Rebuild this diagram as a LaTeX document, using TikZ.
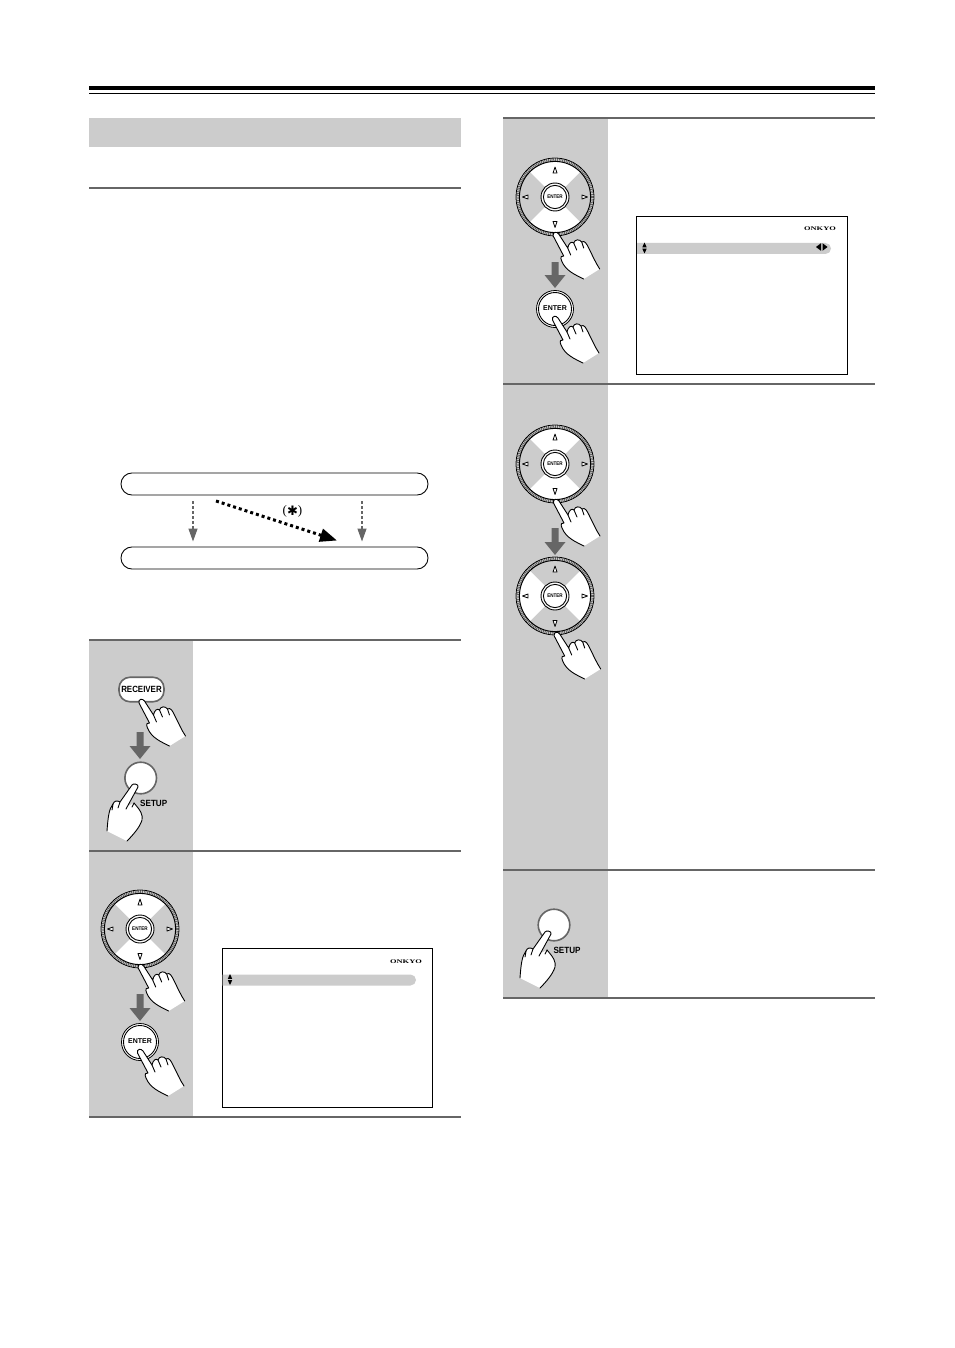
\documentclass[tikz,border=0pt]{standalone}
\usepackage{fontspec}
\setmainfont{Liberation Sans}
\newfontfamily\serifb{Liberation Serif}
\newfontfamily\djv{DejaVu Sans}
\usetikzlibrary{arrows.meta}
\definecolor{panelgray}{HTML}{CCCCCC}
\definecolor{rulegray}{HTML}{666666}
\tikzset{
  x=1pt,y=-1pt,
  rulel/.style={rulegray,line width=2pt},
  handline/.style={black,line width=0.9pt,line join=round,line cap=round},
  pill/.style={draw=black,line width=0.9pt,rounded corners=10.9pt,minimum width=307pt,minimum height=22pt,inner sep=0pt,fill=white},
  ghead/.style={-{Triangle[length=13pt,width=9pt]},rulegray,line width=1.3pt,dash pattern=on 3pt off 2pt},
  dothead/.style={-{Triangle[length=17pt,width=13pt]},black,line width=3pt,dash pattern=on 3pt off 3pt},
  btntext/.style={inner sep=0pt,font=\bfseries\fontsize{9}{9}\selectfont,text=black},
  enttext/.style={inner sep=0pt,font=\bfseries\fontsize{7}{7}\selectfont,text=black},
  smallent/.style={inner sep=0pt,font=\bfseries\fontsize{5.2}{5}\selectfont,text=black},
  logotext/.style={inner sep=0pt,font=\serifb\bfseries\fontsize{5.6}{5}\selectfont,xscale=1.5,text=black},
  tickmark/.style={black,line width=0.8pt,fill=white,line join=round},
}
% hand pointing up-left, tip at (#1,#2)
\newcommand{\handR}[2]{%
\begin{scope}[shift={(#1,#2)}]
\fill[white] (28,46) .. controls (20,42) and (10,38) .. (6,28) .. controls (4,24) and (6,22) .. (8,23) -- (-2.5,3) .. controls (-3.5,-1) and (1,-2) .. (3,1) -- (12,15) .. controls (13,10) and (16,8) .. (18,10) .. controls (19,6) and (24,6) .. (26,9) .. controls (29,7) and (31,11) .. (33,15) .. controls (37,23) and (40,30) .. (44,36) -- cycle;
\draw[handline] (28,46) .. controls (20,42) and (10,38) .. (6,28) .. controls (4,24) and (6,22) .. (8,23) -- (-2.5,3) .. controls (-3.5,-1) and (1,-2) .. (3,1) -- (12,15) .. controls (13,10) and (16,8) .. (18,10) .. controls (19,6) and (24,6) .. (26,9) .. controls (29,7) and (31,11) .. (33,15) .. controls (37,23) and (40,30) .. (44,36);
\draw[handline] (18,10) -- (21,17) (26,9) -- (28,15) (12,15) -- (15,22);
\end{scope}}
% hand pointing up-right, tip at (#1,#2)
\newcommand{\handL}[2]{%
\begin{scope}[shift={(#1,#2)}]
\fill[white] (-8,56) .. controls (-2,50) and (5,42) .. (7,35) .. controls (8,30) and (6,26) .. (-1,18) -- (-7,21) -- (3,2) .. controls (4,-1) and (-2,-2) .. (-3,0) -- (-15,17) .. controls (-18,15) and (-21,16) .. (-22,19) .. controls (-26,24) and (-27,32) .. (-28,46) -- cycle;
\draw[handline] (-8,56) .. controls (-2,50) and (5,42) .. (7,35) .. controls (8,30) and (6,26) .. (-1,18);
\draw[handline] (-9,24) -- (3,2) .. controls (4,-1) and (-2,-2) .. (-3,0) -- (-15,17) .. controls (-18,15) and (-21,16) .. (-22,19) .. controls (-26,24) and (-27,32) .. (-28,46);
\draw[handline] (-1,18) -- (-3,22) (-15,17) -- (-17,23) (-22,19) -- (-23,25);
\end{scope}}
% gray block arrow, x, y top, y tip
\newcommand{\blockarrow}[3]{%
\fill[rulegray] (#1-3.5,#2) -- (#1+3.5,#2) -- (#1+3.5,#3-13) -- (#1+10.5,#3-13) -- (#1,#3) -- (#1-10.5,#3-13) -- (#1-3.5,#3-13) -- cycle;}
% d-pad: x, y, 0 = up/down white, 1 = left/right white
\newcommand{\dpad}[3]{%
\begin{scope}[shift={(#1,#2)}]
\fill[white] (0,0) circle[radius=39.5pt];
\fill[panelgray] (0,0) circle[radius=35.5pt];
\begin{scope}
\clip (0,0) circle[radius=35.5pt];
\ifnum#3=0
\fill[white] (0,0) -- (-40,-40) -- (40,-40) -- cycle;
\fill[white] (0,0) -- (-40,40) -- (40,40) -- cycle;
\else
\fill[white] (0,0) -- (-40,-40) -- (-40,40) -- cycle;
\fill[white] (0,0) -- (40,-40) -- (40,40) -- cycle;
\fi
\end{scope}
\draw[rulegray,line width=2.8pt,dash pattern=on 1.1pt off 0.7pt] (0,0) circle[radius=37.4pt];
\draw[black,line width=0.8pt] (0,0) circle[radius=39pt];
\draw[black,line width=1pt] (0,0) circle[radius=35.6pt];
\fill[white] (0,0) circle[radius=14pt];
\draw[black,line width=0.9pt] (0,0) circle[radius=14pt];
\draw[black,line width=0.9pt] (0,0) circle[radius=11.6pt];
\node[smallent] at (0,0.2) {\scalebox{0.88}[1]{ENTER}};
\draw[tickmark] (0,-30) -- (2,-24) -- (-2,-24) -- cycle;
\draw[tickmark] (0,30.5) -- (2,24.5) -- (-2,24.5) -- cycle;
\draw[tickmark] (-32.5,0) -- (-27,-2) -- (-27,2) -- cycle;
\draw[tickmark] (32.5,0) -- (27,-2) -- (27,2) -- cycle;
\end{scope}}
% big ENTER button
\newcommand{\enterbtn}[3]{%
\fill[white] (#1,#2) circle[radius=18.5pt];
\draw[black,line width=0.8pt] (#1,#2) circle[radius=18.5pt];
\draw[black,line width=0.9pt] (#1,#2) circle[radius=16.5pt];
\node[enttext] (#3) at (#1,#2-1) {ENTER};}
% setup button
\newcommand{\setupbtn}[4]{%
\fill[white] (#1,#2) circle[radius=15.8pt];
\draw[rulegray,line width=1.6pt] (#1,#2) circle[radius=15.8pt];
\node[btntext] (#3) at (#1+13,#2+25) {\scalebox{0.9}[1]{#4}};}
% screen: x1 y1 x2 y2 barend
\newcommand{\screen}[5]{%
\draw[black,line width=0.9pt,fill=white] (#1,#2) rectangle (#3,#4);
\fill[panelgray] (#1+0.5,#2+26.5) -- (#5-5.5,#2+26.5) arc[start angle=90,end angle=-90,radius=5.5pt] -- (#1+0.5,#2+37.5) -- cycle;
\fill[black] (#1+8,#2+26) -- (#1+10.2,#2+30.8) -- (#1+5.8,#2+30.8) -- cycle;
\fill[black] (#1+8,#2+37) -- (#1+10.2,#2+32.2) -- (#1+5.8,#2+32.2) -- cycle;
}
\begin{document}
\begin{tikzpicture}
\useasboundingbox (0,0) rectangle (954,1348);
\fill[white] (0,0) rectangle (954,1348);
% header
\fill[black] (89,86) rectangle (875,90);
\fill[black] (89,92.6) rectangle (875,94);
\fill[panelgray] (89,118) rectangle (461,147);
\draw[rulel] (89,188) -- (461,188);
% panels
\fill[panelgray] (89,640) rectangle (193,1117);
\fill[panelgray] (503,118) rectangle (608,998);
\draw[rulel] (89,640) -- (461,640);
\draw[rulel] (89,851) -- (461,851);
\draw[rulel] (89,1117) -- (461,1117);
\draw[rulel] (503,118) -- (875,118);
\draw[rulel] (503,383.5) -- (875,383.5);
\draw[rulel] (503,870) -- (875,870);
\draw[rulel] (503,998) -- (875,998);
% flow diagram
\node[pill] (pilltop) at (274.5,484) {};
\node[pill] (pillbot) at (274.5,558) {};
\coordinate (a1s) at (193,501);
\coordinate (a1e) at (193,541.5);
\coordinate (a2s) at (362,501);
\coordinate (a2e) at (362,541.5);
\coordinate (a3s) at (216,501);
\coordinate (a3e) at (337,540.5);
\draw[ghead] (a1s) -- (a1e);
\draw[ghead] (a2s) -- (a2e);
\draw[dothead] (a3s) -- (a3e);
\node[inner sep=0pt,font=\serifb\fontsize{13}{13}\selectfont] (star) at (292.5,511) {(\raisebox{-1pt}{\djv\fontsize{13}{13}\selectfont ✱})};
% row 1: RECEIVER / SETUP
\node[draw=rulegray,line width=1.6pt,fill=white,rounded corners=11pt,minimum width=45pt,minimum height=24.5pt,inner sep=0pt,btntext] (recv) at (141.5,689.5) {\scalebox{0.88}[1]{RECEIVER}};
\handR{141.5}{700}
\blockarrow{140}{732}{759}
\setupbtn{140.7}{778}{setupa}{SETUP}
\handL{135}{785}
% row 2
\dpad{140}{929}{0}
\handR{140.7}{965}
\blockarrow{140}{994}{1021}
\enterbtn{140}{1042}{entera}
\handR{140}{1050}
\screen{222}{948}{432}{1107}{416}
\node[logotext] (logoa) at (406,962) {ONKYO};
% right column 1
\dpad{555}{197}{0}
\handR{555.7}{233}
\blockarrow{555}{262}{288}
\enterbtn{555}{309}{enterb}
\handR{555}{317}
\screen{636.5}{216.5}{847}{374}{831}
\node[logotext] (logob) at (820,229) {ONKYO};
\fill[black] (816,247) -- (821,243.2) -- (821,250.8) -- cycle;
\fill[black] (827.5,247) -- (822.5,243.2) -- (822.5,250.8) -- cycle;
% right column 2
\dpad{555}{464}{0}
\handR{556}{500}
\blockarrow{555}{528}{555}
\dpad{555}{596}{1}
\handR{556.7}{633}
% right column 3
\setupbtn{554}{925}{setupb}{SETUP}
\handL{548}{932}
\end{tikzpicture}
\end{document}
